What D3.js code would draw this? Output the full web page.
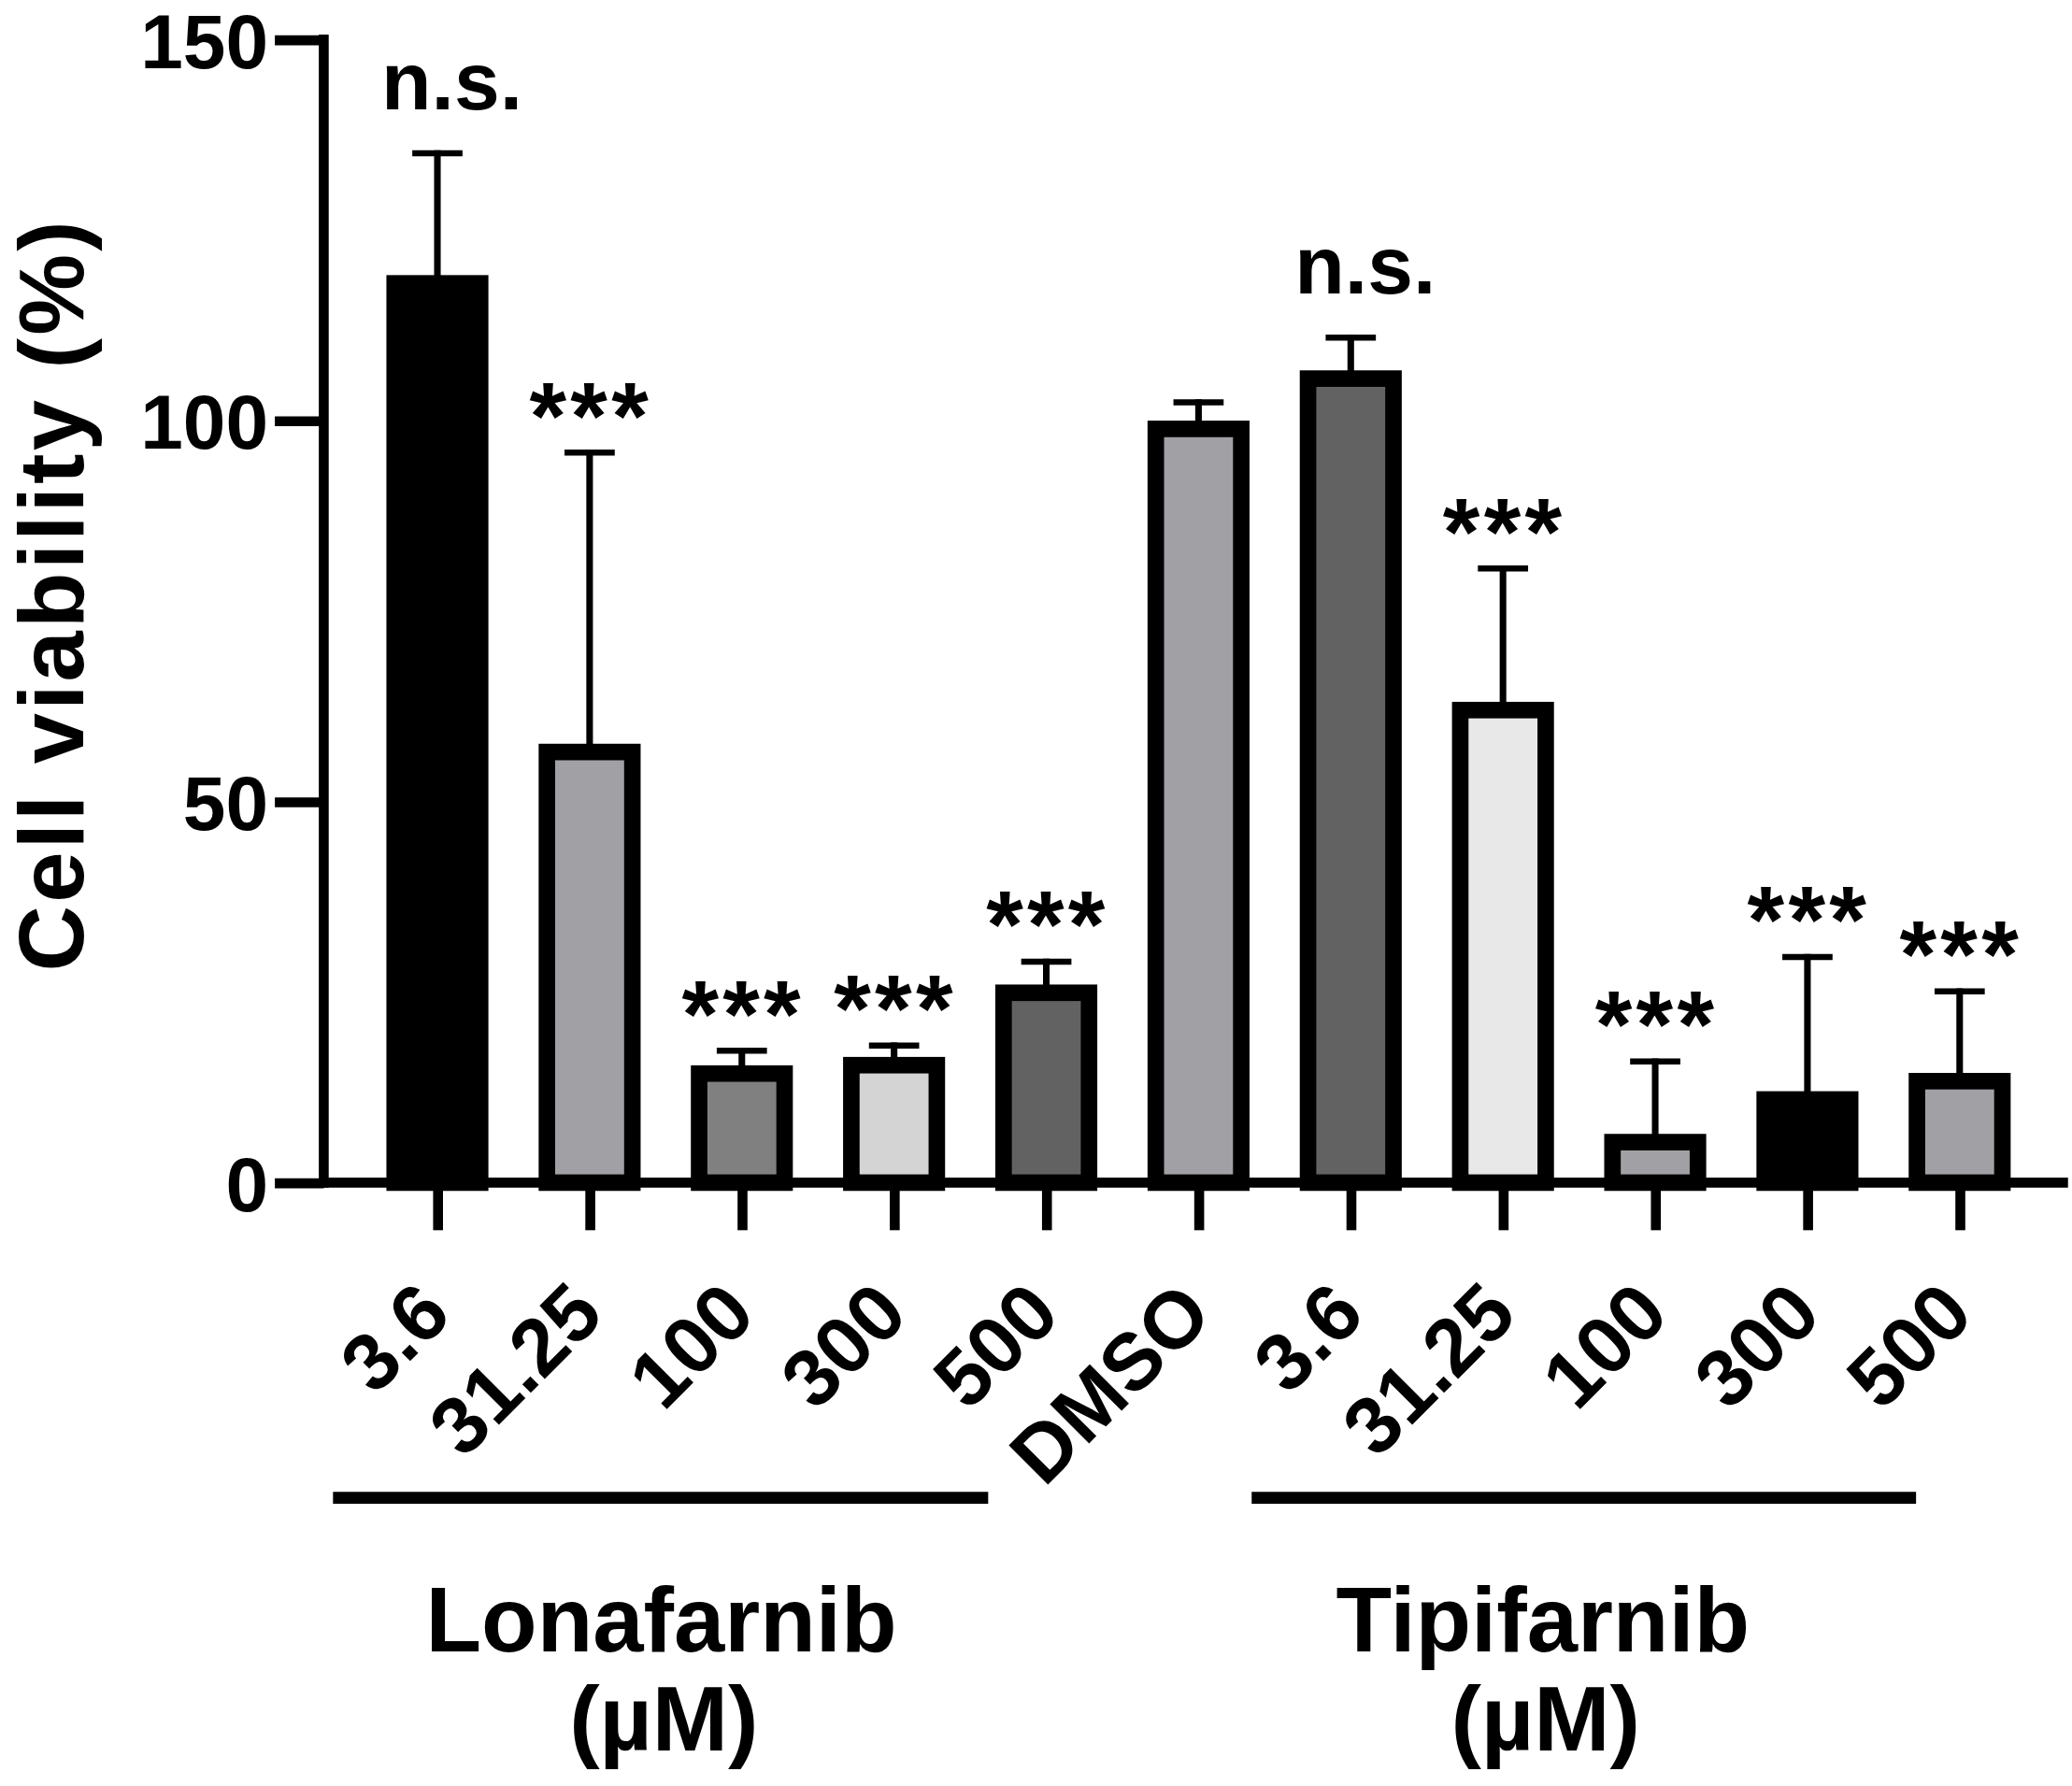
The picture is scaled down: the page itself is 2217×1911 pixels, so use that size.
<!DOCTYPE html>
<html>
<head>
<meta charset="utf-8">
<script src="https://cdn.jsdelivr.net/npm/d3@7"></script>
<style>
  html, body { margin: 0; padding: 0; background: #fff; }
  svg { display: block; }
  text { font-family: "Liberation Sans", Arial, sans-serif; font-weight: bold; fill: #000; }
</style>
</head>
<body>
<svg id="chart"></svg>
<script>
// data
const labels  = ['3.6', '31.25', '100', '300', '500', 'DMSO', '3.6', '31.25', '100', '300', '500'];
const means   = [119.1, 57.6, 15.4, 16.5, 26.0, 100.0, 106.6, 63.1, 6.4, 12.0, 14.4];
const sds     = [16.4, 38.6, 2.3, 1.9, 3.4, 2.8, 4.7, 17.9, 9.9, 18.0, 11.1];
const fills   = ['#000000', '#a1a1a5', '#808080', '#d4d4d4', '#626262', '#a1a1a5',
                 '#626262', '#e8e8e8', '#a1a1a5', '#000000', '#a1a1a5'];
const signif  = ['n.s.', '***', '***', '***', '***', '', 'n.s.', '***', '***', '***', '***'];
const yTicks  = [0, 50, 100, 150];
const groups  = [
  { name: 'Lonafarnib', unit: '(µM)', from: 0, to: 4 },
  { name: 'Tipifarnib', unit: '(µM)', from: 6, to: 10 },
];

// hand-placed group rule / caption offsets (relative to first and last bar)
const GROUP_LAYOUT = [
  { left: -79, right: -44, text: -61 },
  { left: -75, right: -33, text: -85 },
];

const W = 1568, H = 1351.6;          // drawing units, scaled up to the window
const AX = { left: 245, right: 1565, top: 30, base: 895 };

const svg = d3.select('#chart')
  .attr('width', 2217).attr('height', 1911)
  .attr('viewBox', `0 0 ${W} ${H}`);

const ids = labels.map((d, i) => i);

const y = d3.scaleLinear().domain([0, 150]).range([AX.base, AX.top]);
const x = d3.scalePoint().domain(ids).range([331, 1483]);
const bw = x.step() * 0.67;
const SW = 12.5;   // bar outline

// bars (outline drawn inside the bar's extent)
svg.append('g').selectAll('rect')
  .data(ids)
  .join('rect')
  .attr('x', i => x(i) - bw / 2 + SW / 2)
  .attr('y', i => y(means[i]) + SW / 2)
  .attr('width', bw - SW)
  .attr('height', i => y(0) - y(means[i]) - SW / 2)
  .attr('fill', i => fills[i])
  .attr('stroke', '#000')
  .attr('stroke-width', SW);

// error bars (upper only)
const eb = svg.append('g').attr('stroke', '#000');
eb.selectAll('line.stem')
  .data(ids)
  .join('line')
  .attr('class', 'stem')
  .attr('x1', i => x(i)).attr('x2', i => x(i))
  .attr('y1', i => y(means[i]) + 2)
  .attr('y2', i => y(means[i] + sds[i]))
  .attr('stroke-width', 5);
eb.selectAll('line.cap')
  .data(ids)
  .join('line')
  .attr('class', 'cap')
  .attr('x1', i => x(i) - 19).attr('x2', i => x(i) + 19)
  .attr('y1', i => y(means[i] + sds[i]) + 2.3)
  .attr('y2', i => y(means[i] + sds[i]) + 2.3)
  .attr('stroke-width', 4.6);

// significance marks
const sig = svg.append('g').selectAll('text')
  .data(ids.filter(i => signif[i]))
  .join('text')
  .attr('text-anchor', 'middle')
  .text(i => signif[i]);
sig.filter(i => signif[i] === 'n.s.')
  .attr('x', i => x(i) + 11)
  .attr('y', i => y(means[i] + sds[i]) - 31)
  .attr('font-size', 62);
sig.filter(i => signif[i] === '***')
  .attr('x', i => x(i) + 1)
  .attr('y', i => y(means[i] + sds[i]) - 1)
  .attr('font-size', 72)
  .attr('letter-spacing', 3);

// y axis
const yAxis = svg.append('g')
  .attr('transform', `translate(${AX.left},0)`)
  .call(d3.axisLeft(y).tickValues(yTicks).tickSize(37).tickPadding(5));
yAxis.attr('font-family', null);
yAxis.select('.domain').remove();
yAxis.selectAll('.tick line').attr('stroke', '#000').attr('stroke-width', 7.5);
yAxis.selectAll('.tick text')
  .attr('font-size', 58).attr('dy', '0.36em');
svg.append('line')
  .attr('x1', AX.left).attr('x2', AX.left)
  .attr('y1', AX.top - 3.75).attr('y2', AX.base + 3.75)
  .attr('stroke', '#000').attr('stroke-width', 7.5);

// x axis
const xAxis = svg.append('g')
  .attr('transform', `translate(0,${AX.base})`)
  .call(d3.axisBottom(x).tickSize(36).tickFormat(i => labels[i]));
xAxis.attr('font-family', null);
xAxis.select('.domain').remove();
xAxis.selectAll('.tick line').attr('stroke', '#000').attr('stroke-width', 7.5);
xAxis.selectAll('.tick text')
  .attr('font-size', 61)
  .attr('text-anchor', 'end')
  .attr('dy', null)
  .attr('y', 0)
  .attr('transform', 'translate(12,102) rotate(-45)');
svg.append('line')
  .attr('x1', AX.left - 3.75).attr('x2', AX.right)
  .attr('y1', AX.base).attr('y2', AX.base)
  .attr('stroke', '#000').attr('stroke-width', 7.5);

// y label
svg.append('text')
  .attr('transform', `translate(63,450) rotate(-90)`)
  .attr('text-anchor', 'middle')
  .attr('font-size', 69)
  .attr('letter-spacing', 2.3)
  .text('Cell viability (%)');

// group rules and names
const gg = svg.append('g').selectAll('g')
  .data(groups)
  .join('g');
gg.append('line')
  .attr('x1', (g, k) => x(g.from) + GROUP_LAYOUT[k].left)
  .attr('x2', (g, k) => x(g.to) + GROUP_LAYOUT[k].right)
  .attr('y1', 1133.5).attr('y2', 1133.5)
  .attr('stroke', '#000').attr('stroke-width', 9);
gg.append('text')
  .attr('x', (g, k) => (x(g.from) + x(g.to)) / 2 + GROUP_LAYOUT[k].text)
  .attr('y', 1250)
  .attr('text-anchor', 'middle')
  .attr('font-size', 69)
  .text(g => g.name);
gg.append('text')
  .attr('x', (g, k) => (x(g.from) + x(g.to)) / 2 + GROUP_LAYOUT[k].text + 2)
  .attr('y', 1325)
  .attr('text-anchor', 'middle')
  .attr('font-size', 69)
  .text(g => g.unit);
</script>
</body>
</html>
